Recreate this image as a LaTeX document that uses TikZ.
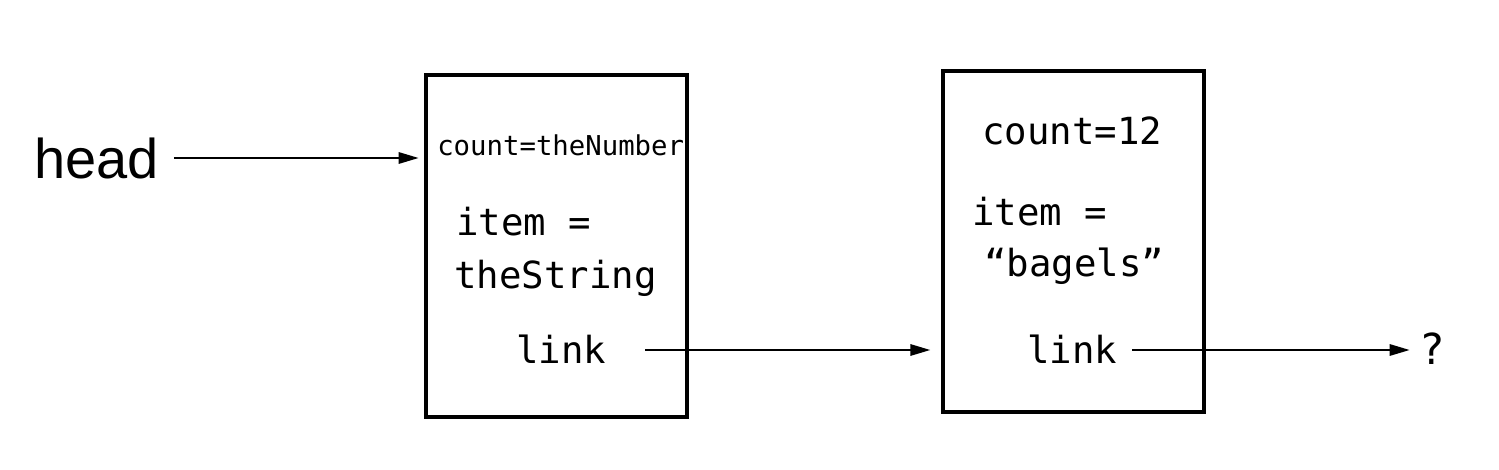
\documentclass[tikz,border=0pt]{standalone}
\usepackage{fontspec}
\setmainfont{Liberation Sans}
\newfontfamily\monof{DejaVu Sans Mono}
\usetikzlibrary{arrows.meta}
\begin{document}
\begin{tikzpicture}[x=0.75pt,y=-0.75pt,
  box/.style={draw,line width=3pt,minimum width=195.75pt,minimum height=256pt,inner sep=0pt},
  txt/.style={anchor=west,inner sep=0pt,font=\monof\fontsize{28pt}{30pt}\selectfont},
  small/.style={anchor=west,inner sep=0pt,font=\monof\fontsize{20.5pt}{22pt}\selectfont},
  conn/.style={line width=1.5pt,-{Triangle[length=15pt,width=8.5pt]}}]
\useasboundingbox (0,0) rectangle (1499,470);
\node[box] (b1) at (556.5,246) {};
\node[box] (b2) at (1073.5,241.5) {};
\node[anchor=west,inner sep=0pt,font=\fontsize{42pt}{44pt}\selectfont] (head) at (34,158) {head};
\node[small] (c1) at (437,145) {count=theNumber};
\node[txt] (i1) at (456,222) {item =};
\node[txt] (s1) at (454,278) {theString};
\node[txt] (l1) at (516,349) {link};
\node[txt] (c2) at (982,131) {count=12};
\node[txt] (i2) at (972,212) {item =};
\node[txt] (s2) at (984,266) {“bagels”};
\node[txt] (l2) at (1027,349) {link};
\node[anchor=west,inner sep=0pt,font=\monof\fontsize{32pt}{34pt}\selectfont] (q) at (1419,349) {?};
\coordinate (e1) at (645,350);
\coordinate (e2) at (1132,350);
\draw[conn] ([xshift=11pt]head.east) -- ([xshift=-4pt]head.east -| b1.west);
\draw[conn] (e1) -- ([xshift=-8pt]e1 -| b2.west);
\draw[conn] (e2) -- ([xshift=-7pt]e2 -| q.west);
\end{tikzpicture}
\end{document}
